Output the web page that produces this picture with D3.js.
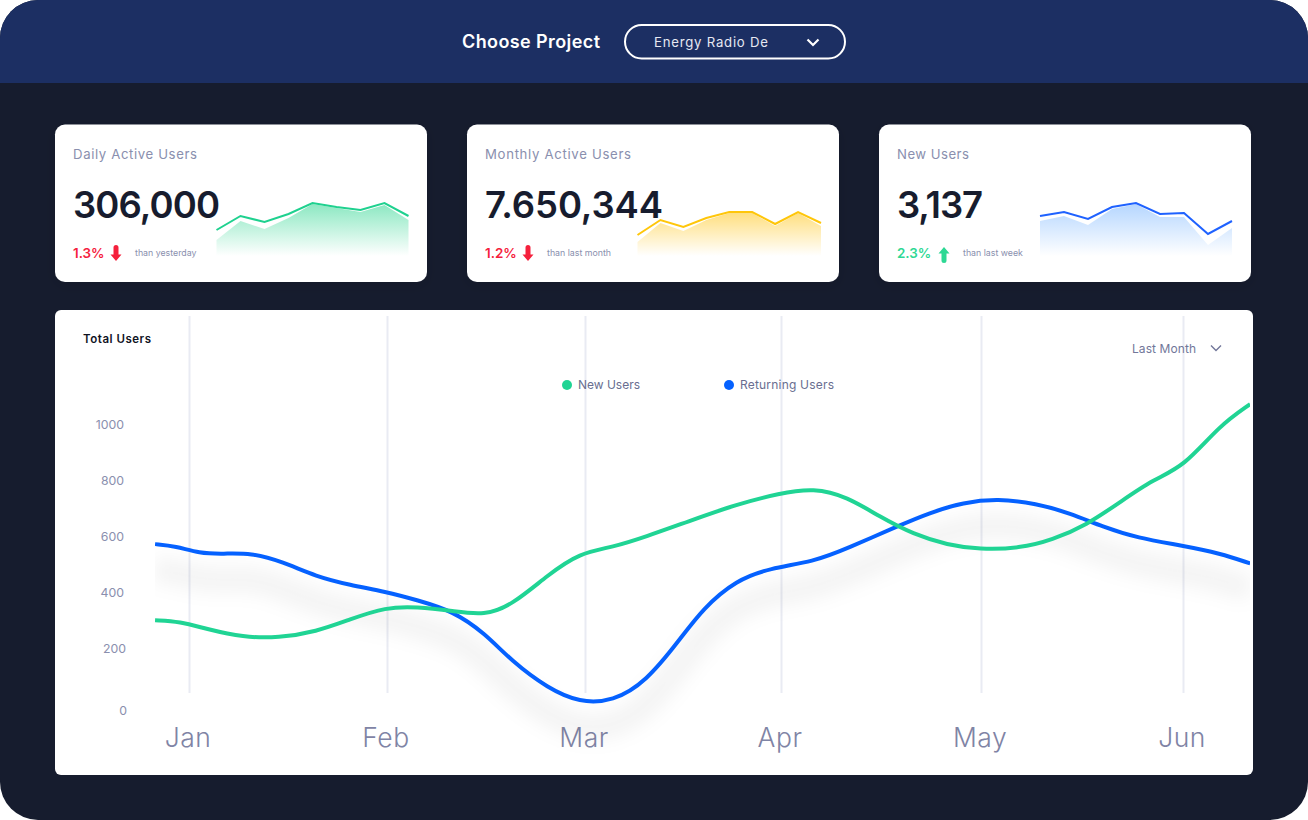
<!DOCTYPE html>
<html><head><meta charset="utf-8">
<script src="https://cdn.jsdelivr.net/npm/d3@7/dist/d3.min.js"></script>
<style>html,body{margin:0;padding:0;background:#fff;overflow:hidden}svg{display:block}text{font-family:Inter,"Open Sans",sans-serif}</style>
</head><body><svg id="c" width="1308" height="820"></svg>
<script>
const months=["Jan","Feb","Mar","Apr","May","Jun"];
const yTicks=[0,200,400,600,800,1000];
const newPos=[-.174,-.05,.09,.27,.45,.64,.81,.99,1.15,1.33,1.49,1.63,1.81,1.97,2.14,2.31,2.52,2.77,2.99,3.16,3.33,3.49,3.66,3.83,3.99,4.19,4.35,4.52,4.69,4.85,5.0,5.18,5.33];
const newVals=[299,295,267,238,236,258,302,346,347,332,316,354,461,540,560,598,651,713,752,772,740,669,606,568,552,556,586,639,723,802,846,996,1071];
const retPos=[-.174,-.07,.05,.17,.31,.47,.64,.81,.99,1.15,1.33,1.49,1.63,1.81,1.97,2.14,2.31,2.48,2.60,2.77,2.94,3.16,3.33,3.58,3.74,3.91,4.08,4.27,4.44,4.60,4.77,5.0,5.18,5.33];
const retVals=[571,564,538,536,540,508,455,425,401,371,332,254,151,56,5,9,80,229,342,443,485,508,556,635,683,720,733,717,681,633,593,565,538,502];
const cardTitles=["Daily Active Users","Monthly Active Users","New Users"];
const cardValues=["306,000","7.650,344","3,137"];
const cardDeltas=["1.3%","1.2%","2.3%"];
const cardNotes=["than yesterday","than last month","than last week"];
const cardUp=[false,false,true];
const sparkLines=[[26,40,34,42,53,49,46,53,40],[21,36,29,38,44,44,32,44,33],[40,44,37,49,53,42,43,22,35]];
const sparkAreas=[[16,35,27,38,52,48,44,51,36],[14,33,25,36,43,43,30,43,30],[35,40,31,47,52,39,39,11,28]];

const svg=d3.select("#c");
const defs=svg.append("defs");
const ink="#171c2e",muted="#8a8fae";
const sparkColors=["#1fd18f","#ffc60a","#1f62ff"];
const sparkFill=["#8ce8c2","#ffdf80","#b5d6ff"];
const cardX=[55,467,879];
const valueW=[147,178,86];
const titleW=[124,146,72];
const sparkX=[[216.5,408.5],[637.5,821],[1040,1232]];

svg.append("rect").attr("width",1308).attr("height",820).attr("rx",38).attr("fill","#161c2e");
defs.append("clipPath").attr("id","hdr").append("rect").attr("width",1308).attr("height",83);
svg.append("rect").attr("width",1308).attr("height",820).attr("rx",38).attr("fill","#1c2f63").attr("clip-path","url(#hdr)");
svg.append("text").attr("x",462).attr("y",48).attr("font-size",18).attr("font-weight",600).attr("fill","#fff").attr("textLength",138).text("Choose Project");
svg.append("rect").attr("x",625).attr("y",25).attr("width",220).attr("height",33.5).attr("rx",16.7).attr("fill","none").attr("stroke","#fff").attr("stroke-width",2);
svg.append("text").attr("x",654).attr("y",47).attr("font-size",13.2).attr("fill","#e6e8f2").attr("textLength",114).text("Energy Radio De");
svg.append("path").attr("d","M807.5 39.5l5.5 5.5l5.5-5.5").attr("fill","none").attr("stroke","#fff").attr("stroke-width",2.2);

const sh=defs.append("filter").attr("id","cardsh").attr("x","-10%").attr("y","-10%").attr("width","120%").attr("height","120%");
sh.append("feDropShadow").attr("dx",0).attr("dy",3).attr("stdDeviation",6).attr("flood-color","#000").attr("flood-opacity",.12);

const sparkY=d3.scaleLinear().domain([0,60]).range([256,196]);
cardTitles.forEach((t,i)=>{
  const x0=cardX[i];
  svg.append("rect").attr("x",x0).attr("y",124.5).attr("width",372).attr("height",157.5).attr("rx",10).attr("fill","#fff").attr("filter","url(#cardsh)");
  svg.append("text").attr("x",x0+18).attr("y",158.5).attr("font-size",13.2).attr("fill",muted).attr("textLength",titleW[i]).text(t);
  svg.append("text").attr("x",x0+18).attr("y",218).attr("font-size",36.5).attr("font-weight",600).attr("fill",ink).attr("textLength",valueW[i]).text(cardValues[i]);
  const col=cardUp[i]?"#2ed894":"#f5203c";
  svg.append("text").attr("x",x0+18).attr("y",258).attr("font-size",13.4).attr("font-weight",600).attr("fill",col).text(cardDeltas[i]);
  const ax=x0+(cardUp[i]?65:61), ay=254;
  svg.append("path").attr("fill",col).attr("d",cardUp[i]
    ?`M${ax} ${ay-7}l5.5 6.5h-3v7a2.5 2.5 0 0 1-5 0v-7h-3z`
    :`M${ax} ${ay+7}l5.5-6.5h-3v-7a2.5 2.5 0 0 0-5 0v7h-3z`);
  svg.append("text").attr("x",x0+(i==2?84:80)).attr("y",255.5).attr("font-size",8.8).attr("fill",muted).text(cardNotes[i]);
  const sx=d3.scaleLinear().domain([0,8]).range(sparkX[i]);
  const g=defs.append("linearGradient").attr("id","sg"+i).attr("x1",0).attr("x2",0).attr("y1",0).attr("y2",1);
  g.append("stop").attr("offset",0).attr("stop-color",sparkFill[i]);
  g.append("stop").attr("offset",1).attr("stop-color",sparkFill[i]).attr("stop-opacity",0);
  const area=d3.area().x((d,k)=>sx(k)).y0(sparkY(0)).y1(d=>sparkY(d));
  svg.append("path").datum(sparkAreas[i]).attr("d",area).attr("fill",`url(#sg${i})`);
  const line=d3.line().x((d,k)=>sx(k)).y(d=>sparkY(d));
  svg.append("path").datum(sparkLines[i]).attr("d",line).attr("fill","none").attr("stroke",sparkColors[i]).attr("stroke-width",2);
});

svg.append("rect").attr("x",55).attr("y",310).attr("width",1198).attr("height",465).attr("rx",6).attr("fill","#fff");
const x=d3.scaleLinear().domain([0,1,2,3,4,5]).range([189.5,387.5,585.5,781.5,981.5,1183.5]);
const y=d3.scaleLinear().domain([0,1000]).range([704,424]);

svg.append("g").selectAll("line").data(months).join("line")
  .attr("x1",(d,i)=>x(i)).attr("x2",(d,i)=>x(i)).attr("y1",316).attr("y2",693)
  .attr("stroke","#e9ebf3").attr("stroke-width",2);

const yAxis=svg.append("g").attr("transform","translate(124,0.5)").call(d3.axisLeft(y).tickValues(yTicks).tickFormat(d3.format("d")).tickSize(0).tickPadding(0));
yAxis.select(".domain").remove();
yAxis.selectAll("text").attr("font-size",12.3).attr("fill",muted).style("font-family","Inter");
yAxis.selectAll(".tick").filter(d=>d===0).select("text").attr("dy","0.8em").attr("dx",3);
yAxis.selectAll(".tick").filter(d=>d===200).select("text").attr("dx",2);

const xAxis=svg.append("g").attr("transform","translate(-2,728)").call(d3.axisBottom(x).tickValues([0,1,2,3,4,5]).tickFormat(i=>months[i]).tickSize(0).tickPadding(0));
xAxis.select(".domain").remove();
xAxis.selectAll("text").attr("font-size",26.5).attr("font-weight",300).attr("fill","#7f84a5").attr("letter-spacing",.5).style("font-family","Inter");

defs.append("clipPath").attr("id","plot").append("rect").attr("x",155).attr("y",310).attr("width",1095).attr("height",465);
const blur=defs.append("filter").attr("id","blur").attr("x",-.05).attr("y",-.3).attr("width",1.1).attr("height",1.6);
blur.append("feGaussianBlur").attr("stdDeviation",9);
const newData=newPos.map((p,i)=>[p,newVals[i]]), retData=retPos.map((p,i)=>[p,retVals[i]]);
const ln=d3.line().x(d=>x(d[0])).y(d=>y(d[1])).curve(d3.curveBasis);
const plot=svg.append("g").attr("clip-path","url(#plot)");
plot.append("path").attr("d",ln(retData)).attr("fill","none").attr("stroke","#000").attr("stroke-opacity",.045).attr("stroke-width",26).attr("transform","translate(0,26)").attr("filter","url(#blur)");
plot.append("path").attr("d",ln(retData)).attr("fill","none").attr("stroke","#0561ff").attr("stroke-width",4);
plot.append("path").attr("d",ln(newData)).attr("fill","none").attr("stroke","#20d494").attr("stroke-width",4);

svg.append("text").attr("x",83).attr("y",343).attr("font-size",11.5).attr("font-weight",600).attr("fill","#10131f").attr("textLength",68).text("Total Users");
svg.append("text").attr("x",1132).attr("y",352.5).attr("font-size",12).attr("fill","#72779a").attr("textLength",64).text("Last Month");
svg.append("path").attr("d","M1211 345.5l5 5l5-5").attr("fill","none").attr("stroke","#72779a").attr("stroke-width",1.4);
const legend=[["New Users","#20d494",567,578,62],["Returning Users","#0561ff",729,740,94]];
legend.forEach(l=>{
  svg.append("circle").attr("cx",l[2]).attr("cy",385).attr("r",5).attr("fill",l[1]);
  svg.append("text").attr("x",l[3]).attr("y",388.5).attr("font-size",12).attr("fill","#696e90").attr("textLength",l[4]).text(l[0]);
});
</script></body></html>
